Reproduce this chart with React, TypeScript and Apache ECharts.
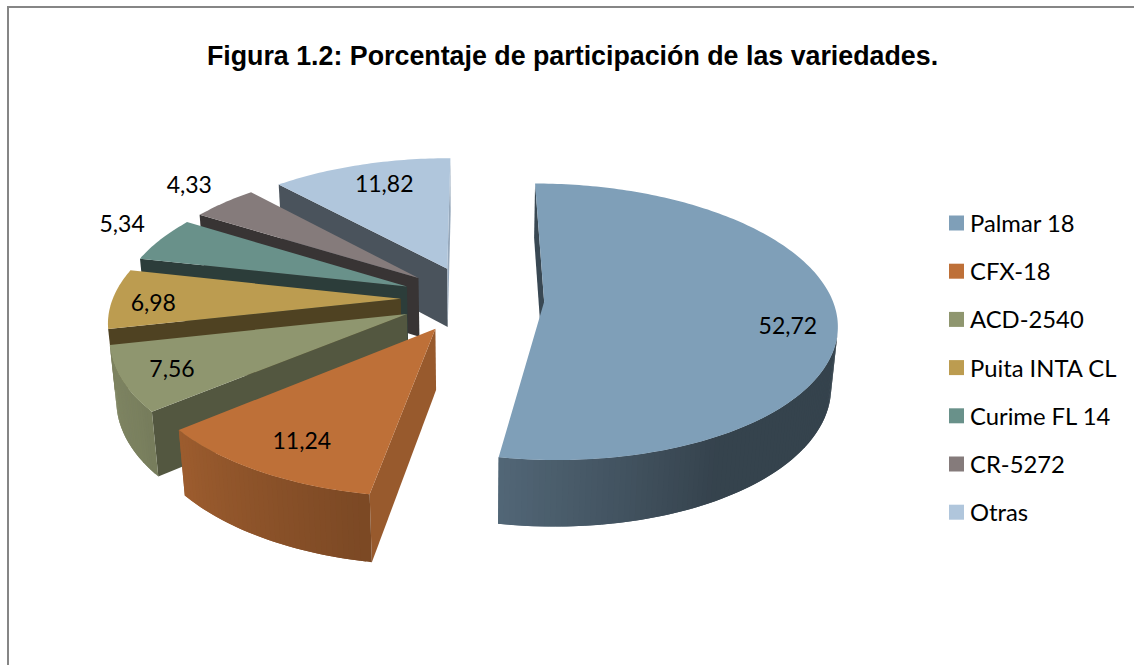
import React, { useEffect, useRef } from "react";
import * as echarts from "echarts";

const names = ["Palmar 18", "CFX-18", "ACD-2540", "Puita INTA CL", "Curime FL 14", "CR-5272", "Otras"];
const values = [52.72, 11.24, 7.56, 6.98, 5.34, 4.33, 11.82];
const labels = ["52,72", "11,24", "7,56", "6,98", "5,34", "4,33", "11,82"];
const colors = ["#7f9fb8", "#be7038", "#8f966f", "#bc9c50", "#69918a", "#857b7b", "#b0c6dc"];
const labelRadius = [0.834, 0.796, 0.833, 0.856, 1.211, 1.236, 0.794];
const labelTurn = [6.7, -0.7, 0, -1.5, 3.2, 1.6, 2.2];

const total = values.reduce((a, b) => a + b, 0);
const starts: number[] = []; let acc = 0;
values.forEach((v) => { starts.push(acc / total * 360); acc += v; });
const ends = starts.map((s, i) => s + values[i] / total * 360);

// Camera of the 3D pie
const p = { Xc: 472.462, Yc: 298.905, D: 6.13, F: 1765.696, T: 0.486, e: 0.249, h: 0.239 };
const rad = (d: number) => d * Math.PI / 180;
function proj(i: number, r: number, th: number, low: boolean): [number, number] {
  const m = rad((starts[i] + ends[i]) / 2), t = rad(th);
  const u = p.e * Math.sin(m) + r * Math.sin(t), w = p.e * Math.cos(m) + r * Math.cos(t);
  const z = low ? -p.h : 0;
  const y = w * Math.sin(p.T) + z * Math.cos(p.T), d = p.D + w * Math.cos(p.T) - z * Math.sin(p.T);
  return [p.Xc + p.F * u / d, p.Yc - p.F * y / d];
}

const lerpTable = (tab: number[][], a: number) => {
  if (a <= tab[0][0]) return tab[0][1];
  for (let i = 1; i < tab.length; i++) if (a <= tab[i][0]) {
    const f = (a - tab[i - 1][0]) / (tab[i][0] - tab[i - 1][0]);
    return tab[i - 1][1] + f * (tab[i][1] - tab[i - 1][1]);
  }
  return tab[tab.length - 1][1];
};
const rimShade = [[150, 0.42], [190, 0.65], [235, 0.85], [260, 0.9]];
const wallShade = [[0, 0.45], [190, 0.8], [230, 0.58], [258, 0.42]];
const shade = (hex: string, f: number) => {
  const n = parseInt(hex.slice(1), 16);
  const c = (v: number) => Math.round(v * f);
  return `rgb(${c((n >> 16) & 255)},${c((n >> 8) & 255)},${c(n & 255)})`;
};
const area = (pts: number[][]) => {
  let s = 0;
  pts.forEach((a, i) => { const b = pts[(i + 1) % pts.length]; s += a[0] * b[1] - b[0] * a[1]; });
  return s;
};

function sliceItem(i: number) {
  const kids: any[] = [];
  const s = starts[i], en = ends[i], col = colors[i];
  const addFace = (pts: number[][], fill: string) => {
    if (area(pts) < 0) kids.push({ type: "polygon", shape: { points: pts }, style: { fill } });
  };
  const A = proj(i, 0, s, false), AL = proj(i, 0, s, true);
  const S = proj(i, 1, s, false), SL = proj(i, 1, s, true);
  const E = proj(i, 1, en, false), EL = proj(i, 1, en, true);
  addFace([A, S, SL, AL], shade(col, lerpTable(wallShade, s)));
  addFace([E, A, AL, EL], shade(col, 0.85));
  // Rim facets are painted from the end of the slice backwards; each one runs under the next.
  const step = 1;
  const n = Math.max(4, Math.ceil((en - s) / step));
  for (let k = n - 1; k >= 0; k--) {
    const a = s + (en - s) * k / n, b = s + (en - s) * (k + 1) / n;
    const a2 = Math.max(s, a), b2 = Math.min(en, b + (en - s) / n);
    const f = [proj(i, 1, a2, false), proj(i, 1, b2, false), proj(i, 1, b2, true), proj(i, 1, a2, true)];
    addFace(f, shade(col, lerpTable(rimShade, (a + b) / 2)));
  }
  const top: number[][] = [A];
  for (let k = 0; k <= n; k++) top.push(proj(i, 1, s + (en - s) * k / n, false));
  kids.push({ type: "polygon", shape: { points: top }, style: { fill: col } });
  const [lx, ly] = proj(i, labelRadius[i], (s + en) / 2 + labelTurn[i], false);
  kids.push({ type: "text", x: lx, y: ly, style: { text: labels[i], fill: "#000", fontFamily: "Lato", fontSize: 23, align: "center", verticalAlign: "middle" } });
  return { type: "group", children: kids };
}

const order = [6, 5, 4, 3, 2, 1, 0];

export default function App() {
  const ref = useRef<HTMLDivElement>(null);
  useEffect(() => {
    document.body.style.margin = "0";
    const chart = echarts.init(ref.current!, undefined, { renderer: "svg" });
    chart.setOption({
      animation: false,
      backgroundColor: "#fff",
      title: { text: "Figura 1.2: Porcentaje de participación de las variedades.", left: 567.5, top: 37, textAlign: "center", textStyle: { fontFamily: "Liberation Sans", fontWeight: "bold", fontSize: 26.8, color: "#000" } },
      legend: { orient: "vertical", left: 949, top: 211, padding: 0, itemWidth: 15, itemHeight: 15, itemGap: 24.2, icon: "rect", data: names, selectedMode: false, textStyle: { fontFamily: "Lato", fontSize: 23.8, color: "#000", padding: [0, 0, 0, 1] } },
      graphic: [
        { type: "polyline", silent: true, shape: { points: [[8, 665], [8, 7], [1134, 7]] }, style: { stroke: "#868686", lineWidth: 2, fill: "none" } },
      ],
      series: order.map((i, idx) => ({
        type: "custom", name: names[i], z: 2 + idx, silent: true, coordinateSystem: "none",
        itemStyle: { color: colors[i] },
        data: [values[i]], renderItem: () => sliceItem(i),
      })),
    });
    return () => chart.dispose();
  }, []);
  return <div ref={ref} style={{ width: 1134, height: 665 }} />;
}
